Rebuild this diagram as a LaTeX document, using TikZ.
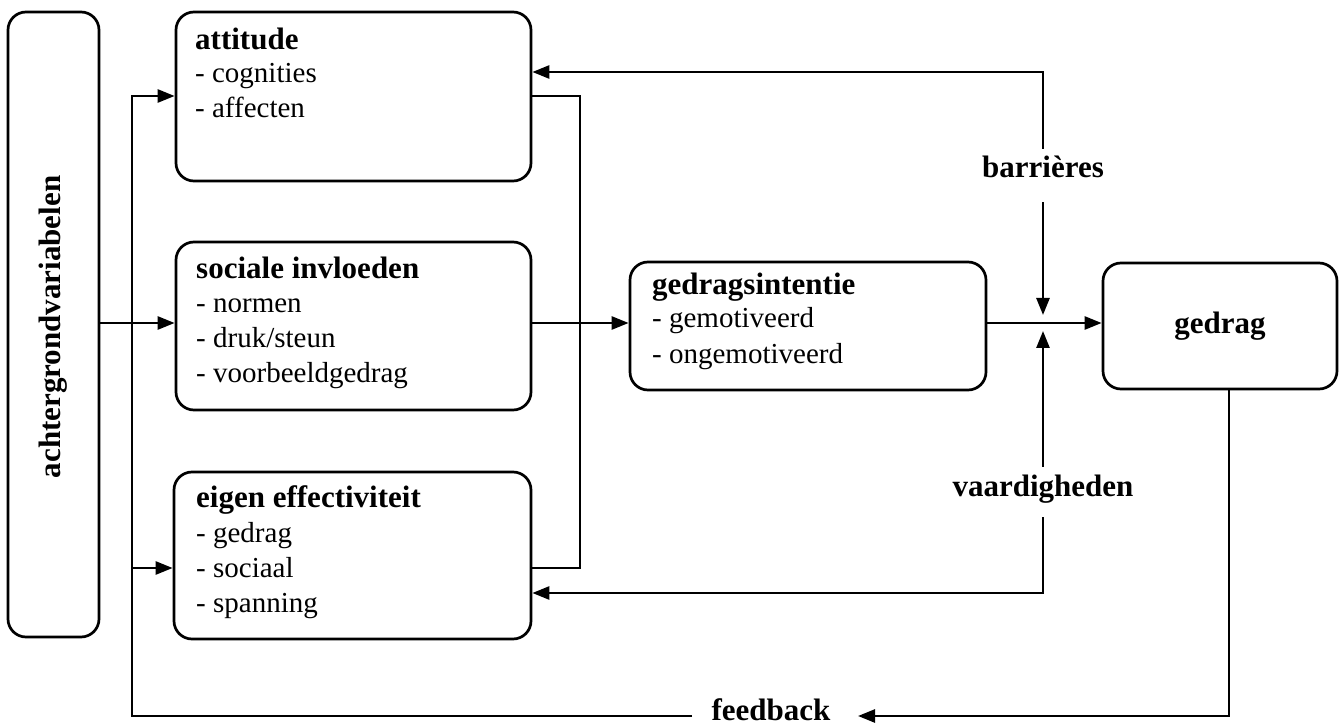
\documentclass[tikz,border=0pt]{standalone}
\usepackage{fontspec}
\setmainfont{Liberation Serif}
\usetikzlibrary{arrows.meta}
\begin{document}
\begin{tikzpicture}[x=1pt,y=-1pt,
  box/.style={draw, line width=2.7pt, rounded corners=18pt, inner sep=0pt},
  reg/.style={anchor=base west, inner sep=0pt, font=\fontsize{29}{34}\selectfont},
  hd/.style={anchor=base west, inner sep=0pt, font=\fontsize{31}{34}\selectfont\bfseries},
  lbl/.style={anchor=base, inner xsep=4pt, inner ysep=0pt, font=\fontsize{31}{34}\selectfont\bfseries},
  conn/.style={line width=2.6pt},
  arr/.style={line width=2.6pt, -{Triangle[length=17pt,width=13pt]}}]
\useasboundingbox (0,0) rectangle (1342,727);
% boxes
\node[box, minimum width=91pt, minimum height=625pt] (bg) at (53.5,324.5) {};
\node[box, minimum width=355pt, minimum height=169pt] (att) at (353.5,96.5) {};
\node[box, minimum width=355pt, minimum height=168pt] (soc) at (353.5,326) {};
\node[box, minimum width=357pt, minimum height=167pt] (eig) at (352.5,555.5) {};
\node[box, minimum width=356pt, minimum height=128pt] (gi) at (808,326) {};
\node[box, minimum width=234pt, minimum height=126pt, font=\fontsize{31}{34}\selectfont\bfseries] (ged) at (1220,326) {gedrag};
% texts
\node[anchor=base, rotate=90, inner sep=0pt, font=\fontsize{31}{34}\selectfont\bfseries] (bgT) at (60,327) {achtergrondvariabelen};
\node[hd] (att1) at (195,50) {attitude};
\node[reg] (att2) at (195,83) {- cognities};
\node[reg] (att3) at (195,118) {- affecten};
\node[hd] (soc1) at (196,279) {sociale invloeden};
\node[reg] (soc2) at (196,313) {- normen};
\node[reg] (soc3) at (196,348) {- druk/steun};
\node[reg] (soc4) at (196,382) {- voorbeeldgedrag};
\node[hd] (eig1) at (196,507) {eigen effectiviteit};
\node[reg] (eig2) at (196,542) {- gedrag};
\node[reg] (eig3) at (196,577) {- sociaal};
\node[reg] (eig4) at (196,612) {- spanning};
\node[hd] (gi1) at (652,295) {gedragsintentie};
\node[reg] (gi2) at (652,328) {- gemotiveerd};
\node[reg] (gi3) at (652,363) {- ongemotiveerd};
% labels on connectors
\node[lbl, text height=29pt, text depth=24pt] (bar) at (1043,178) {barrières};
\node[lbl, text height=29pt, text depth=21pt] (vaa) at (1043,496) {vaardigheden};
\node[lbl] (fb) at (771,720) {feedback};
% coordinates
\coordinate (m) at (0,323);
\coordinate (trunkTop) at (132,96);
\coordinate (yE) at (0,568);
\coordinate (colT) at (580,96);
\coordinate (colB) at (580,568);
\coordinate (bT) at (1043,72);
\coordinate (vB) at (1043,593);
\coordinate (jT) at (1043,315);
\coordinate (jB) at (1043,331);
\coordinate (fbR) at (1229,716);
\coordinate (fbE) at (858,716);
\coordinate (fbW) at (692,716);
% connectors
\draw[arr] (bg.east |- m) -- (soc.west |- m);
\draw[arr] (fbW) -| (trunkTop) -- (att.west |- trunkTop);
\draw[arr] (trunkTop |- yE) -- (eig.west |- yE);
\draw[conn] (att.east |- colT) -- (colT) -- (colB) -- (eig.east |- colB);
\draw[arr] (soc.east |- m) -- (gi.west |- m);
\draw[arr] (gi.east |- m) -- (ged.west |- m);
\draw[arr] (bar.north) -- (bT) -- (att.east |- bT);
\draw[arr] (bar.south) -- (jT);
\draw[arr] (vaa.south) -- (vB) -- (eig.east |- vB);
\draw[arr] (vaa.north) -- (jB);
\draw[arr] (ged.south -| fbR) -- (fbR) -- (fbE);
\end{tikzpicture}
\end{document}
